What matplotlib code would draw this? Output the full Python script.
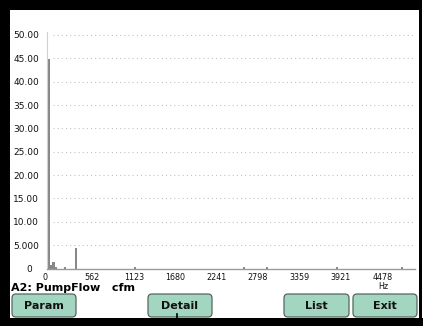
import matplotlib
matplotlib.use("Agg")
import matplotlib.pyplot as plt
from matplotlib.patches import Rectangle, FancyBboxPatch
from matplotlib.transforms import Affine2D, ScaledTranslation

W, H = 423, 326

# Spectrum lines (frequency in Hz, amplitude in cfm)
freq_hz = [12, 40, 86, 113, 236, 385, 1181, 2652, 2962, 3907, 4784]
amplitude = [44.8, 0.7, 1.4, 0.4, 0.3, 4.3, 0.3, 0.3, 0.3, 0.3, 0.3]

x_ticks = [0, 562, 1123, 1680, 2241, 2798, 3359, 3921, 4478]
x_tick_labels = ["0", "562", "1123", "1680", "2241", "2798", "3359", "3921", "4478"]
y_ticks = [0, 5, 10, 15, 20, 25, 30, 35, 40, 45, 50]
y_tick_labels = ["0", "5.000", "10.00", "15.00", "20.00", "25.00",
                 "30.00", "35.00", "40.00", "45.00", "50.00"]
x_unit = "Hz"
channel_label = "A2: PumpFlow   cfm"
button_labels = ["Param", "Detail", "List", "Exit"]

fig = plt.figure(figsize=(W / 100, H / 100), dpi=100)
fig.patch.set_facecolor("white")

# pixel transform: x right, y down from top-left corner
px = Affine2D().scale(1, -1).translate(0, H)

ax = fig.add_axes([47 / W, 1 - 268.5 / H, (415 - 47) / W, (268.5 - 31.7) / H])
ax.set_facecolor("white")
ax.set_xlim(-7, 4960)
ax.set_ylim(0, 50.7)

ax.hlines(y_ticks[1:], (53 - 47) / 368, (413 - 47) / 368,
          transform=ax.get_yaxis_transform(), colors="#bdbdbd",
          linestyles=(0, (1, 3)), linewidth=0.75, zorder=1)

ax.bar(freq_hz, amplitude, width=38, color="#878787", linewidth=0, zorder=2)

for side in ("top", "right"):
    ax.spines[side].set_visible(False)
ax.spines["left"].set_color("#d0d0d0")
ax.spines["left"].set_linewidth(0.8)
ax.spines["bottom"].set_color("#9a9a9a")
ax.spines["bottom"].set_linewidth(1.0)

ax.set_yticks(y_ticks, y_tick_labels)
ax.set_xticks(x_ticks, x_tick_labels)
ax.tick_params(axis="y", length=0, pad=15, labelsize=6.5, labelcolor="#111111")
ax.tick_params(axis="x", length=0, pad=3, labelsize=5.8, labelcolor="#111111")

for lbl in ax.get_yticklabels():
    lbl.set_ha("center")
    if lbl.get_text() == "0":
        lbl.set_transform(lbl.get_transform() + ScaledTranslation(0.035, 0, fig.dpi_scale_trans))
for lbl in ax.get_xticklabels():
    dx = -0.025 if lbl.get_text() == "0" else 0.03
    lbl.set_transform(lbl.get_transform() + ScaledTranslation(dx, 0, fig.dpi_scale_trans))

ax.set_xlabel(x_unit, fontsize=5.8, color="#111111")
ax.xaxis.set_label_coords((383 - 47) / 368, -0.055)

# channel caption
fig.text(11, 291, channel_label, transform=px, fontsize=8, fontweight="bold",
         color="black", ha="left", va="baseline")

# soft-key buttons
buttons = [(11, 77), (147, 213), (283, 350), (352, 418)]
for (x0, x1), name in zip(buttons, button_labels):
    box = FancyBboxPatch((x0 + 1, 294), x1 - x0 - 2, 23,
                         boxstyle="round,pad=0,rounding_size=4",
                         transform=px, facecolor="#a3d6c1",
                         edgecolor="#56665f", linewidth=0.9)
    fig.add_artist(box)
    fig.text((x0 + x1) / 2, 306, name, transform=px, fontsize=8,
             fontweight="bold", color="#111111", ha="center", va="center")

fig.add_artist(plt.Line2D([177, 177], [314, 320], transform=px,
                          color="black", linewidth=1.2))

# bezel
for (x, y, w, h) in [(0, 0, 10, H), (0, 0, 419, 10), (0, 318, W, 8), (418.5, 0, 3, H)]:
    fig.add_artist(Rectangle((x, y), w, h, transform=px, facecolor="black",
                             edgecolor="none", zorder=10))

fig.savefig("out.png", dpi=100, facecolor="white")
